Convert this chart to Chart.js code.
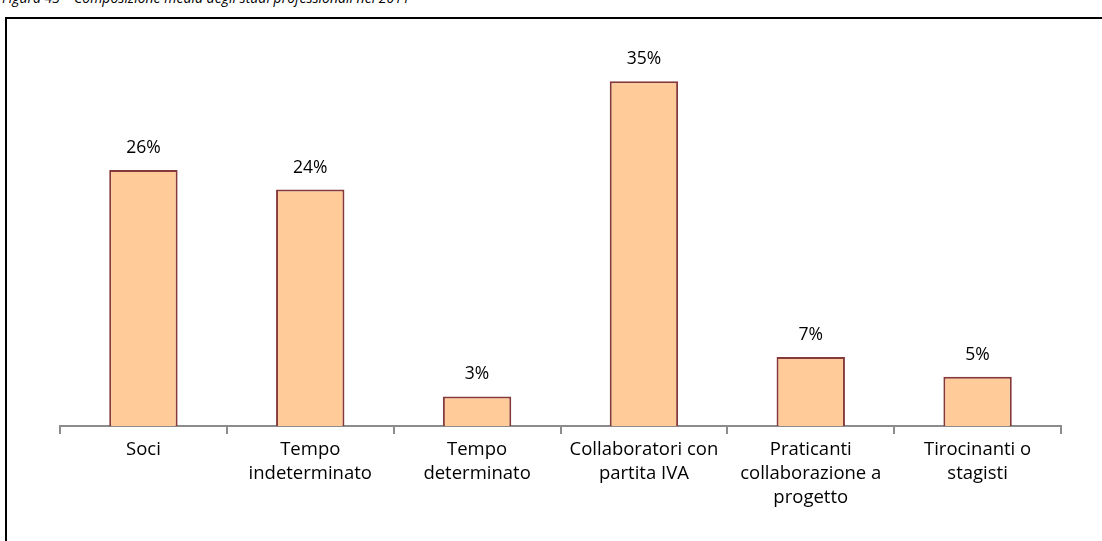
<!DOCTYPE html>
<html lang="it">
<head>
<meta charset="UTF-8">
<title>Composizione media degli studi professionali</title>
<script src="https://cdn.jsdelivr.net/npm/chart.js"></script>
<style>
    body {
        margin: 0;
        width: 1102px;
        height: 541px;
        overflow: hidden;
        background: #ffffff;
        position: relative;
        font-family: "Open Sans", sans-serif;
    }
    .caption {
        position: absolute;
        left: 2px;
        top: -9px;
        font-size: 14px;
        line-height: 1;
        font-style: italic;
        color: #000;
        white-space: nowrap;
    }
    .frame {
        position: absolute;
        left: 5px;
        top: 17px;
        width: 1110px;
        height: 540px;
        border-left: 2px solid #000;
        border-top: 2px solid #000;
    }
    .chart-box {
        position: absolute;
        left: 0;
        top: 0;
        width: 1102px;
        height: 541px;
    }
</style>
</head>
<body>
<div class="caption">Figura 43 – Composizione media degli studi professionali nel 2011</div>
<div class="frame"></div>
<div class="chart-box"><canvas id="chart"></canvas></div>

<script>
    // categorie (etichette su più righe) e quote percentuali
    const categories = [
        ['Soci'],
        ['Tempo', 'indeterminato'],
        ['Tempo', 'determinato'],
        ['Collaboratori con', 'partita IVA'],
        ['Praticanti', 'collaborazione a', 'progetto'],
        ['Tirocinanti o', 'stagisti']
    ];
    const shares = [26, 24, 3, 35, 7, 5];

    const FONT = '"Open Sans", sans-serif';

    // scrive il valore sopra ogni barra
    const valueLabels = {
        id: 'valueLabels',
        afterDatasetsDraw(chart) {
            const ctx = chart.ctx;
            const meta = chart.getDatasetMeta(0);
            ctx.save();
            ctx.font = '17.5px ' + FONT;
            ctx.fillStyle = '#000';
            ctx.textAlign = 'center';
            ctx.textBaseline = 'middle';
            meta.data.forEach((bar, i) => {
                ctx.fillText(shares[i] + '%', bar.x, bar.y - 22);
            });
            ctx.restore();
        }
    };

    const ctx = document.getElementById('chart').getContext('2d');
    new Chart(ctx, {
        type: 'bar',
        data: {
            labels: categories,
            datasets: [{
                data: shares,
                backgroundColor: '#FFCC99',
                borderColor: '#85393A',
                borderWidth: 2,
                barPercentage: 0.41,
                categoryPercentage: 1
            }]
        },
        options: {
            responsive: true,
            maintainAspectRatio: false,
            animation: false,
            layout: {
                padding: { left: 60, right: 41, top: 32, bottom: 27 }
            },
            plugins: {
                legend: { display: false },
                tooltip: { enabled: false }
            },
            scales: {
                y: {
                    display: false,
                    min: 0,
                    max: 40
                },
                x: {
                    grid: {
                        display: true,
                        offset: true,
                        drawOnChartArea: false,
                        drawTicks: true,
                        tickLength: 8,
                        color: '#8C8C8C',
                        lineWidth: 2
                    },
                    border: {
                        display: true,
                        color: '#8C8C8C',
                        width: 2
                    },
                    ticks: {
                        color: '#000',
                        padding: 4,
                        maxRotation: 0,
                        autoSkip: false,
                        font: { family: FONT, size: 18.5, lineHeight: '24px' }
                    }
                }
            }
        },
        plugins: [valueLabels]
    });
</script>
</body>
</html>
